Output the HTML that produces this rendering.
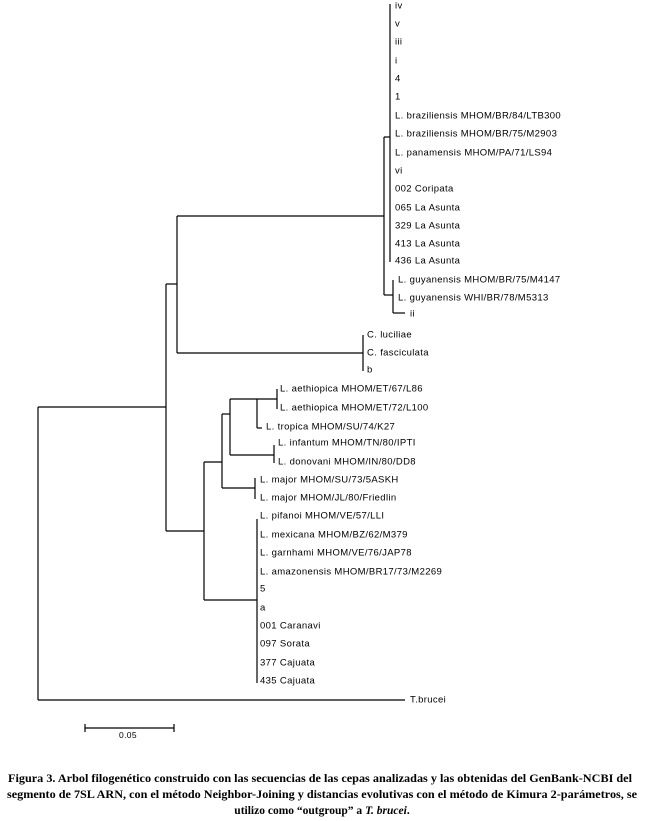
<!DOCTYPE html>
<html><head><meta charset="utf-8"><style>
html,body{margin:0;padding:0;background:#fff}
svg{display:block}
.t{font-family:"Liberation Sans",sans-serif;font-size:9.5px;letter-spacing:0.35px;fill:#000;dominant-baseline:central}
.c{font-family:"Liberation Serif",serif;font-size:11.5px;font-weight:bold;fill:#000;text-anchor:middle;dominant-baseline:central}
</style></head><body>
<svg width="646" height="821" viewBox="0 0 646 821" xmlns="http://www.w3.org/2000/svg">
<g stroke="#000" stroke-width="1.2" fill="none">
<!-- top clade -->
<path d="M390 4V262"/>
<path d="M384 137H390"/>
<path d="M384 137V295"/>
<path d="M384 295H393"/>
<path d="M393 280V313"/>
<path d="M393 313H405"/>
<path d="M177 216H384"/>
<path d="M177 216V353"/>
<path d="M177 353H363"/>
<path d="M363 335V371"/>
<path d="M166 284H177"/>
<path d="M166 284V531"/>
<path d="M38 407H166"/>
<path d="M38 407V700"/>
<path d="M38 700H405"/>
<path d="M166 531H204"/>
<path d="M204 462V600"/>
<path d="M204 462H222"/>
<path d="M222 414V488"/>
<path d="M222 414H230"/>
<path d="M230 399V455"/>
<path d="M230 399H257"/>
<path d="M257 399V428"/>
<path d="M257 399H277"/>
<path d="M277 389V409"/>
<path d="M257 428H262"/>
<path d="M230 455H274"/>
<path d="M274 445V463"/>
<path d="M222 488H255"/>
<path d="M255 478V499"/>
<path d="M204 600H257"/>
<path d="M257 519V683"/>
<path d="M85 728H174"/>
<path d="M85 724V732"/>
<path d="M174 724V732"/>
</g>
<g class="t">
<text x="395" y="6">iv</text>
<text x="395" y="24">v</text>
<text x="395" y="42">iii</text>
<text x="395" y="61">i</text>
<text x="395" y="79">4</text>
<text x="395" y="97">1</text>
<text x="395" y="116">L. braziliensis MHOM/BR/84/LTB300</text>
<text x="395" y="134">L. braziliensis MHOM/BR/75/M2903</text>
<text x="395" y="153">L. panamensis MHOM/PA/71/LS94</text>
<text x="395" y="171">vi</text>
<text x="395" y="189">002 Coripata</text>
<text x="395" y="208">065 La Asunta</text>
<text x="395" y="226">329 La Asunta</text>
<text x="395" y="244">413 La Asunta</text>
<text x="395" y="261">436 La Asunta</text>
<text x="398" y="280">L. guyanensis MHOM/BR/75/M4147</text>
<text x="398" y="298">L. guyanensis WHI/BR/78/M5313</text>
<text x="410" y="314">ii</text>
<text x="367" y="335">C. luciliae</text>
<text x="367" y="353">C. fasciculata</text>
<text x="367" y="370">b</text>
<text x="280" y="389">L. aethiopica MHOM/ET/67/L86</text>
<text x="280" y="408">L. aethiopica MHOM/ET/72/L100</text>
<text x="266" y="427">L. tropica MHOM/SU/74/K27</text>
<text x="278" y="443">L. infantum MHOM/TN/80/IPTI</text>
<text x="278" y="462">L. donovani MHOM/IN/80/DD8</text>
<text x="260" y="480">L. major MHOM/SU/73/5ASKH</text>
<text x="260" y="498">L. major MHOM/JL/80/Friedlin</text>
<text x="260" y="516">L. pifanoi MHOM/VE/57/LLI</text>
<text x="260" y="535">L. mexicana MHOM/BZ/62/M379</text>
<text x="260" y="553">L. garnhami MHOM/VE/76/JAP78</text>
<text x="260" y="572">L. amazonensis MHOM/BR17/73/M2269</text>
<text x="260" y="589">5</text>
<text x="260" y="608">a</text>
<text x="260" y="626">001 Caranavi</text>
<text x="260" y="644">097 Sorata</text>
<text x="260" y="663">377 Cajuata</text>
<text x="260" y="681">435 Cajuata</text>
<text x="410" y="700">T.brucei</text>
<text x="119" y="735" style="font-size:8.5px">0.05</text>
</g>
<text class="c" x="320" y="779" textLength="624" lengthAdjust="spacingAndGlyphs">Figura 3. Arbol filogenético construido con las secuencias de las cepas analizadas y las obtenidas del GenBank-NCBI del</text>
<text class="c" x="322" y="795" textLength="630" lengthAdjust="spacingAndGlyphs">segmento de 7SL ARN, con el método Neighbor-Joining y distancias evolutivas con el método de Kimura 2-parámetros, se</text>
<text class="c" x="322" y="811">utilizo como “outgroup” a <tspan font-style="italic">T. brucei</tspan>.</text>
</svg>
</body></html>
